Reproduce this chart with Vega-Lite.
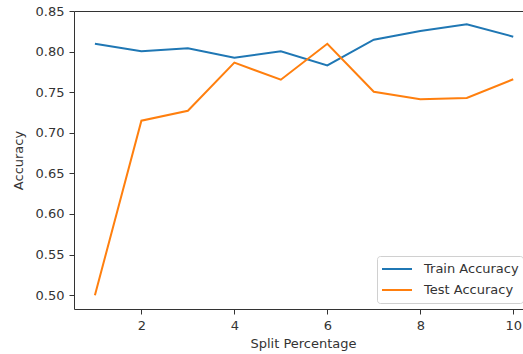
{
  "$schema": "https://vega.github.io/schema/vega-lite/v6.json",
  "autosize": {"type": "none"},
  "width": 449,
  "height": 298,
  "padding": {"left": 74, "top": 11, "right": 0, "bottom": 45},
  "config": {
    "view": {"stroke": null},
    "font": "DejaVu Sans",
    "axis": {
      "grid": false,
      "domainColor": "#333333",
      "domainWidth": 1,
      "tickColor": "#333333",
      "tickSize": 5,
      "tickWidth": 1,
      "labelColor": "#333333",
      "labelFontSize": 13,
      "titleFontSize": 13,
      "titleFontWeight": "normal",
      "titleColor": "#333333",
      "labelFont": "DejaVu Sans",
      "titleFont": "DejaVu Sans",
      "labelPadding": 5
    }
  },
  "data": {
    "values": [
      {"split": 1, "series": "Train Accuracy", "acc": 0.8097},
      {"split": 2, "series": "Train Accuracy", "acc": 0.8003},
      {"split": 3, "series": "Train Accuracy", "acc": 0.8040},
      {"split": 4, "series": "Train Accuracy", "acc": 0.7925},
      {"split": 5, "series": "Train Accuracy", "acc": 0.8003},
      {"split": 6, "series": "Train Accuracy", "acc": 0.7830},
      {"split": 7, "series": "Train Accuracy", "acc": 0.8147},
      {"split": 8, "series": "Train Accuracy", "acc": 0.8254},
      {"split": 9, "series": "Train Accuracy", "acc": 0.8336},
      {"split": 10, "series": "Train Accuracy", "acc": 0.8184},
      {"split": 1, "series": "Test Accuracy", "acc": 0.5000},
      {"split": 2, "series": "Test Accuracy", "acc": 0.7149},
      {"split": 3, "series": "Test Accuracy", "acc": 0.7272},
      {"split": 4, "series": "Test Accuracy", "acc": 0.7864},
      {"split": 5, "series": "Test Accuracy", "acc": 0.7654},
      {"split": 6, "series": "Test Accuracy", "acc": 0.8097},
      {"split": 7, "series": "Test Accuracy", "acc": 0.7506},
      {"split": 8, "series": "Test Accuracy", "acc": 0.7413},
      {"split": 9, "series": "Test Accuracy", "acc": 0.7429},
      {"split": 10, "series": "Test Accuracy", "acc": 0.7659}
    ]
  },
  "layer": [
    {
      "mark": {"type": "line", "strokeWidth": 2, "clip": true},
      "encoding": {
        "x": {
          "field": "split", "type": "quantitative",
          "scale": {"domain": [0.55, 10.21], "nice": false, "zero": false},
          "axis": {"values": [2, 4, 6, 8, 10], "title": "Split Percentage", "titlePadding": 5, "titleX": 229}
        },
        "y": {
          "field": "acc", "type": "quantitative",
          "scale": {"domain": [0.483, 0.850], "nice": false, "zero": false},
          "axis": {"values": [0.5, 0.55, 0.6, 0.65, 0.7, 0.75, 0.8, 0.85], "format": ".2f", "title": "Accuracy", "titlePadding": 10}
        },
        "color": {
          "field": "series", "type": "nominal",
          "scale": {"domain": ["Train Accuracy", "Test Accuracy"], "range": ["#1f77b4", "#ff7f0e"]},
          "legend": {
            "title": null,
            "orient": "none",
            "legendX": 303,
            "legendY": 245,
            "symbolType": "stroke",
            "symbolSize": 900,
            "symbolStrokeWidth": 2,
            "labelFontSize": 13,
            "labelColor": "#333333",
            "labelFont": "DejaVu Sans",
            "clipHeight": 18,
            "rowPadding": 3,
            "padding": 4,
            "fillColor": "white",
            "strokeColor": "#d0d0d0",
            "cornerRadius": 3,
            "labelOffset": 11
          }
        }
      }
    },
    {
      "mark": {"type": "line", "opacity": 0},
      "encoding": {
        "x": {
          "field": "split", "type": "quantitative",
          "axis": {"orient": "top", "labels": false, "ticks": false, "title": null}
        },
        "y": {"field": "acc", "type": "quantitative"}
      }
    }
  ],
  "resolve": {"axis": {"x": "independent"}}
}
